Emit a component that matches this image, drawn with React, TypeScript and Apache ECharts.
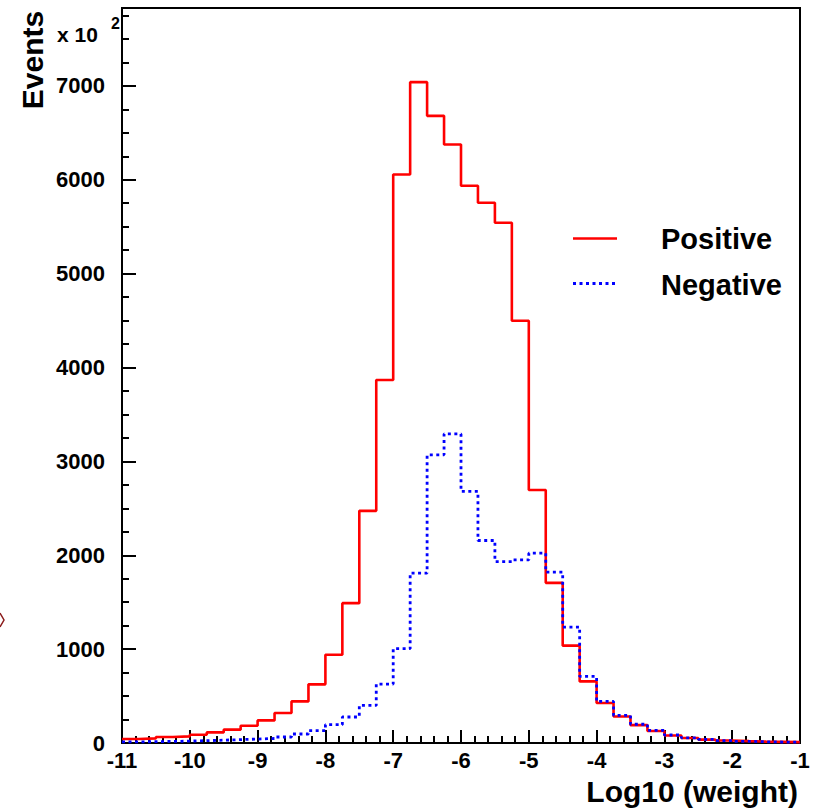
import React, { useEffect, useRef } from "react";
import * as echarts from "echarts";

// Histogram binning: 40 bins of width 0.25 from -11 to -1
const BIN_LOW = -11;
const BIN_WIDTH = 0.25;
const X_MIN = -11;
const X_MAX = -1;
const Y_MAX = 7830;

// Bin contents (units of 10^2 events)
const positive = [
  42, 49, 64, 71, 88, 113, 142, 184, 241, 319,
  443, 625, 940, 1490, 2473, 3867, 6057, 7040, 6681, 6376,
  5936, 5755, 5542, 4499, 2696, 1706, 1037, 656, 426, 283,
  190, 128, 80, 53, 36, 26, 20, 15, 12, 9,
];
const negative = [
  12, 14, 17, 20, 25, 30, 36, 42, 48, 64,
  96, 131, 195, 277, 400, 628, 1005, 1810, 3070, 3293,
  2680, 2157, 1933, 1950, 2022, 1820, 1235, 709, 443, 294,
  200, 134, 85, 55, 38, 26, 18, 13, 10, 8,
];
const seriesNames = ["Positive", "Negative"];
const seriesColors = ["#ff0000", "#0000ff"];
const xTitle = "Log10 (weight)";
const yTitle = "Events";

function toSteps(values: number[]): [number, number][] {
  const pts: [number, number][] = values.map((v, i) => [BIN_LOW + i * BIN_WIDTH, v]);
  pts.push([BIN_LOW + values.length * BIN_WIDTH, values[values.length - 1]]);
  return pts;
}

const FONT = "'Liberation Sans', Arial, Helvetica, sans-serif";
const DOTS = [3, 3.5];

export default function App() {
  const ref = useRef<HTMLDivElement>(null);
  useEffect(() => {
    document.body.style.margin = "0";
    const chart = echarts.init(ref.current!, null, { renderer: "svg" });
    const tickStyle = { color: "#000", width: 2 };
    chart.setOption({
      animation: false,
      backgroundColor: "#fff",
      textStyle: { fontFamily: FONT },
      grid: {
        left: 122,
        right: 23,
        top: 8,
        bottom: 65,
        show: true,
        borderColor: "#000",
        borderWidth: 2,
        backgroundColor: "transparent",
      },
      xAxis: [
        {
          type: "value",
          min: X_MIN,
          max: X_MAX,
          interval: 1,
          position: "bottom",
          axisLine: { show: true, lineStyle: { color: "#000", width: 2 } },
          axisTick: { show: true, inside: true, length: 13, lineStyle: tickStyle },
          axisLabel: {
            show: true,
            margin: 6,
            color: "#000",
            fontSize: 22,
            fontWeight: "bold",
            fontFamily: FONT,
          },
          splitLine: { show: false },
        },
        {
          type: "value",
          min: X_MIN,
          max: X_MAX,
          interval: 0.2,
          position: "bottom",
          axisLine: { show: false },
          axisTick: { show: true, inside: true, length: 7, lineStyle: tickStyle },
          axisLabel: { show: false },
          splitLine: { show: false },
        },
      ],
      yAxis: [
        {
          type: "value",
          min: 0,
          max: Y_MAX,
          interval: 1000,
          position: "left",
          axisLine: { show: true, lineStyle: { color: "#000", width: 2 } },
          axisTick: { show: true, inside: true, length: 14, lineStyle: tickStyle },
          axisLabel: {
            show: true,
            margin: 17,
            color: "#000",
            fontSize: 22,
            fontWeight: "bold",
            fontFamily: FONT,
            formatter: (v: number) => (v % 1000 === 0 ? String(v) : ""),
          },
          splitLine: { show: false },
        },
        {
          type: "value",
          min: 0,
          max: Y_MAX,
          interval: 250,
          position: "left",
          axisLine: { show: false },
          axisTick: { show: true, inside: true, length: 7, lineStyle: tickStyle },
          axisLabel: { show: false },
          splitLine: { show: false },
        },
      ],
      series: [
        {
          name: seriesNames[0],
          type: "line",
          step: "end",
          xAxisIndex: 0,
          yAxisIndex: 0,
          symbol: "none",
          showSymbol: false,
          lineStyle: { color: seriesColors[0], width: 2.6 },
          itemStyle: { color: seriesColors[0] },
          data: toSteps(positive),
          z: 3,
        },
        {
          name: seriesNames[1],
          type: "line",
          step: "end",
          xAxisIndex: 0,
          yAxisIndex: 0,
          symbol: "none",
          showSymbol: false,
          lineStyle: { color: seriesColors[1], width: 2.8, type: DOTS },
          itemStyle: { color: seriesColors[1] },
          data: toSteps(negative),
          z: 4,
        },
      ],
      graphic: [
        {
          type: "text",
          x: 32.5,
          y: 60,
          rotation: Math.PI / 2,
          style: {
            text: yTitle,
            fill: "#000",
            font: `bold 30px ${FONT}`,
            textAlign: "center",
            textVerticalAlign: "middle",
          },
        },
        {
          type: "text",
          x: 57,
          y: 34,
          style: {
            text: "x 10",
            fill: "#000",
            font: `bold 21px ${FONT}`,
            textAlign: "left",
            textVerticalAlign: "middle",
          },
        },
        {
          type: "text",
          x: 111,
          y: 23,
          style: {
            text: "2",
            fill: "#000",
            font: `bold 16px ${FONT}`,
            textAlign: "left",
            textVerticalAlign: "middle",
          },
        },
        {
          type: "text",
          x: 798,
          y: 791,
          style: {
            text: xTitle,
            fill: "#000",
            font: `bold 30px ${FONT}`,
            textAlign: "right",
            textVerticalAlign: "middle",
          },
        },
        // legend
        {
          type: "line",
          shape: { x1: 573, y1: 238.5, x2: 617, y2: 238.5 },
          style: { stroke: seriesColors[0], lineWidth: 2.6 },
        },
        {
          type: "line",
          shape: { x1: 573, y1: 283.5, x2: 617, y2: 283.5 },
          style: { stroke: seriesColors[1], lineWidth: 2.8, lineDash: DOTS },
        },
        {
          type: "text",
          x: 661,
          y: 239,
          style: {
            text: seriesNames[0],
            fill: "#000",
            font: `bold 29px ${FONT}`,
            textAlign: "left",
            textVerticalAlign: "middle",
          },
        },
        {
          type: "text",
          x: 661,
          y: 285,
          style: {
            text: seriesNames[1],
            fill: "#000",
            font: `bold 29px ${FONT}`,
            textAlign: "left",
            textVerticalAlign: "middle",
          },
        },
        {
          type: "polyline",
          shape: { points: [[0, 613], [4, 620], [0, 627]] },
          style: { stroke: "#8b1a1a", lineWidth: 1.5, fill: "none" },
        },
      ],
    });
    return () => chart.dispose();
  }, []);
  return <div ref={ref} style={{ width: 823, height: 808 }} />;
}
